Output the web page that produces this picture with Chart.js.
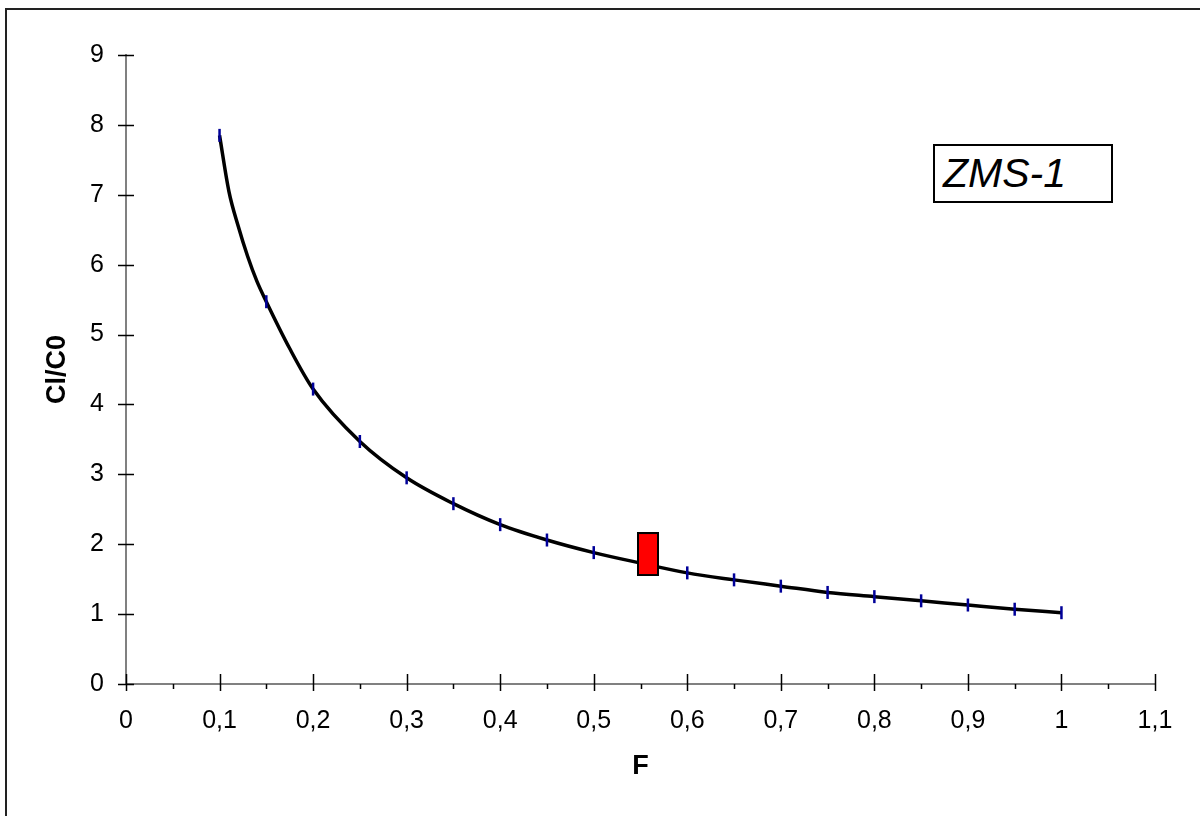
<!DOCTYPE html>
<html>
<head>
<meta charset="utf-8">
<script src="https://cdn.jsdelivr.net/npm/chart.js"></script>
<style>
  body { margin: 0; background: #fff; }
  #wrap { position: relative; width: 1200px; height: 816px; overflow: hidden; }
  #frame {
    position: absolute; left: 5px; top: 8px; width: 1300px; height: 900px;
    border-top: 2px solid #222; border-left: 2px solid #222;
  }
  #label {
    position: absolute; left: 933px; top: 144px; width: 168px; height: 55px;
    border: 2px solid #000; background: #fff;
    font: italic 41px "Liberation Sans", Arial, sans-serif;
    line-height: 55px; padding-left: 8px; box-sizing: content-box;
  }
  canvas { position: absolute; left: 0; top: 0; }
</style>
</head>
<body>
<div id="wrap">
  <div id="frame"></div>
  <canvas id="rayleighChart" width="1200" height="816"></canvas>
  <div id="label">ZMS-1</div>
</div>

<script>
  // F (fraction of melt remaining) and Cl/C0
  // (0.11-0.14 and 0.175 are unmarked curve points, the rest carry a marker)
  const fValues = [0.1, 0.11, 0.12, 0.13, 0.14, 0.15, 0.175, 0.2, 0.25, 0.3, 0.35, 0.4,
                   0.45, 0.5, 0.55, 0.6, 0.65, 0.7, 0.75, 0.8, 0.85, 0.9, 0.95, 1.0];
  const ratioValues = [7.85, 7.05, 6.55, 6.12, 5.76, 5.47, 4.80, 4.22, 3.47, 2.95, 2.58, 2.28,
                       2.06, 1.88, 1.73, 1.59, 1.49, 1.40, 1.31, 1.25, 1.19, 1.13, 1.07, 1.02];
  const markedF = [0.1, 0.15, 0.2, 0.25, 0.3, 0.35, 0.4, 0.45, 0.5, 0.55,
                   0.6, 0.65, 0.7, 0.75, 0.8, 0.85, 0.9, 0.95, 1.0];

  // the sample box
  const sampleF = [0.558];
  const sampleRatio = [1.86];

  const yTicks = [0, 1, 2, 3, 4, 5, 6, 7, 8, 9];

  const font = "'Liberation Sans', Arial, sans-serif";

  // red box marker
  const box = document.createElement("canvas");
  box.width = 22;
  box.height = 44;
  (function () {
    const c = box.getContext("2d");
    c.fillStyle = "#ff0000";
    c.fillRect(0, 0, 22, 44);
    c.strokeStyle = "#000";
    c.lineWidth = 2;
    c.strokeRect(1, 1, 20, 42);
  })();

  // Excel-like ticks that cross the axes
  const crossTicks = {
    id: "crossTicks",
    afterDraw(chart) {
      const ctx = chart.ctx;
      const x = chart.scales.x;
      const y = chart.scales.y;
      const x0 = x.getPixelForValue(0);
      const y0 = y.getPixelForValue(0);
      ctx.save();
      ctx.strokeStyle = "#000";
      ctx.lineWidth = 1.5;
      ctx.beginPath();
      yTicks.forEach((v) => {
        const py = Math.round(y.getPixelForValue(v)) + 0.5;
        ctx.moveTo(x0 - 8, py);
        ctx.lineTo(x0 + 8, py);
      });
      for (let i = 0; i <= 22; i++) {
        const px = Math.round(x.getPixelForValue(i * 0.05)) + 0.5;
        if (i % 2 === 0) {
          ctx.moveTo(px, y0 - 10);
          ctx.lineTo(px, y0 + 7);
        } else {
          ctx.moveTo(px, y0);
          ctx.lineTo(px, y0 + 5);
        }
      }
      ctx.stroke();
      ctx.restore();
    },
  };

  new Chart(document.getElementById("rayleighChart"), {
    type: "line",
    data: {
      datasets: [
        {
          label: "sample",
          data: sampleF.map((f, i) => ({ x: f, y: sampleRatio[i] })),
          showLine: false,
          pointStyle: box,
          pointRadius: 22,
        },
        {
          label: "Cl/C0",
          data: fValues.map((f, i) => ({ x: f, y: ratioValues[i] })),
          borderColor: "#000",
          borderWidth: 3.5,
          cubicInterpolationMode: "monotone",
          pointStyle: "line",
          rotation: 90,
          pointRadius: (c) => (markedF.includes(fValues[c.dataIndex]) ? 6.5 : 0),
          pointBorderColor: "#000099",
          pointBorderWidth: 2.5,
        },
      ],
    },
    options: {
      responsive: false,
      animation: false,
      devicePixelRatio: 1,
      layout: { padding: { left: 0, right: 45, top: 55, bottom: 0 } },
      plugins: { legend: { display: false }, tooltip: { enabled: false } },
      scales: {
        x: {
          type: "linear",
          min: 0,
          max: 1.1,
          afterFit: (s) => { s.height = 132; },
          grid: { drawOnChartArea: false, drawTicks: false },
          border: { color: "#808080", width: 2 },
          ticks: {
            stepSize: 0.1,
            padding: 22,
            color: "#000",
            font: { family: font, size: 25 },
            maxRotation: 0,
            callback: (v) => Number(v.toFixed(2)).toString().replace(".", ","),
          },
          title: {
            display: true,
            text: "F",
            color: "#000",
            font: { family: font, size: 27, weight: "bold" },
            padding: { top: 0, bottom: 33 },
          },
        },
        y: {
          min: 0,
          max: 9,
          afterFit: (s) => { s.width = 126; },
          grid: { drawOnChartArea: false, drawTicks: false },
          border: { color: "#808080", width: 2 },
          ticks: {
            stepSize: 1,
            padding: 22,
            color: "#000",
            font: { family: font, size: 25 },
          },
          title: {
            display: true,
            text: "Cl/C0",
            color: "#000",
            font: { family: font, size: 27, weight: "bold" },
            padding: { top: 41, bottom: 0 },
          },
        },
      },
    },
    plugins: [crossTicks],
  });
</script>
</body>
</html>
